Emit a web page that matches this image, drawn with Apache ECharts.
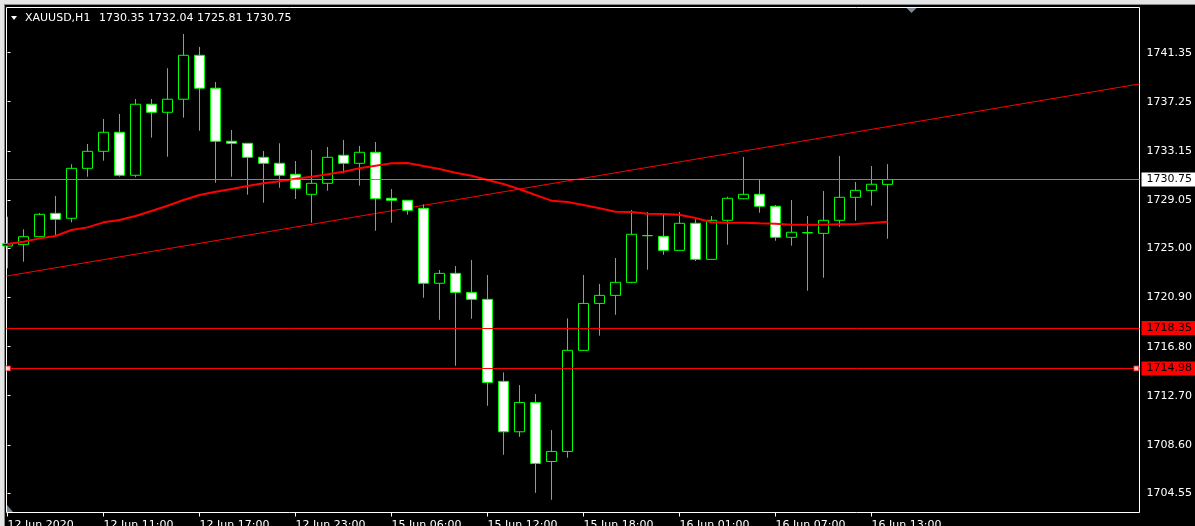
<!DOCTYPE html>
<html>
<head>
<meta charset="utf-8">
<script src="https://cdn.jsdelivr.net/npm/echarts@6/dist/echarts.min.js"></script>
<style>
  html, body { margin: 0; padding: 0; background: #000; }
  #chart { width: 1195px; height: 526px; }
</style>
</head>
<body>
<div id="chart"></div>
<script>
// ---- data ----
const symbolName = 'XAUUSD,H1';
const open = [1725.20,1725.34,1725.98,1727.93,1727.52,1731.69,1733.11,1734.70,1731.11,1737.04,
  1736.37,1737.46,1741.13,1738.38,1733.95,1733.78,1732.61,1732.11,1731.19,1729.52,
  1730.44,1732.78,1732.11,1733.03,1729.19,1729.02,1728.35,1722.09,1722.92,1721.33,
  1720.75,1713.90,1709.69,1712.14,1707.21,1708.05,1716.49,1720.41,1721.08,1722.17,
  1726.06,1726.01,1724.84,1727.10,1724.09,1727.35,1729.15,1729.52,1728.52,1725.93,
  1726.30,1726.26,1727.35,1729.27,1729.85,1730.35];
const close = [1725.40,1725.98,1727.85,1727.43,1731.69,1733.11,1734.70,1731.11,1737.04,1736.37,
  1737.46,1741.13,1738.38,1733.95,1733.78,1732.61,1732.11,1731.11,1730.02,1730.44,
  1732.61,1732.11,1733.03,1729.15,1729.02,1728.18,1722.09,1722.92,1721.33,1720.75,
  1713.81,1709.69,1712.14,1707.05,1708.05,1716.49,1720.41,1721.08,1722.17,1726.18,
  1726.08,1724.84,1727.10,1724.09,1727.35,1729.19,1729.52,1728.52,1725.93,1726.35,
  1726.33,1727.35,1729.27,1729.85,1730.36,1730.75];
const low = [1723.34,1723.89,1725.95,1726.12,1727.18,1730.99,1732.33,1730.99,1730.95,1734.25,
  1732.66,1735.92,1734.83,1730.49,1730.99,1729.49,1728.82,1730.07,1729.13,1727.15,
  1729.82,1731.27,1730.24,1726.48,1727.15,1727.82,1720.88,1719.04,1715.20,1719.13,
  1711.86,1707.77,1709.27,1704.59,1704.01,1707.52,1716.45,1717.71,1719.46,1722.10,
  1723.22,1724.47,1724.80,1723.95,1724.05,1725.31,1729.10,1727.98,1725.64,1725.23,
  1721.47,1722.55,1726.81,1727.31,1728.57,1725.81];
const high = [1727.65,1726.60,1727.96,1729.38,1732.03,1733.72,1735.81,1736.23,1737.48,1737.48,
  1740.05,1742.91,1741.83,1738.90,1734.89,1733.80,1733.14,1733.78,1732.30,1733.22,
  1733.47,1734.06,1733.56,1733.89,1729.96,1729.05,1728.68,1723.20,1723.53,1724.03,
  1722.78,1714.65,1713.59,1712.84,1709.83,1719.16,1722.78,1722.03,1724.20,1728.21,
  1728.04,1727.90,1728.04,1727.43,1727.71,1729.32,1732.64,1730.77,1728.63,1729.04,
  1727.71,1729.80,1732.72,1730.55,1731.88,1732.04];
const movingAvg = [1725.37,1725.56,1725.84,1726.04,1726.54,1726.76,1727.18,1727.37,1727.71,1728.13,
  1728.57,1729.04,1729.46,1729.74,1729.96,1730.21,1730.44,1730.61,1730.82,1730.99,
  1731.19,1731.41,1731.69,1731.91,1732.11,1732.14,1731.88,1731.63,1731.32,1731.07,
  1730.72,1730.38,1729.94,1729.46,1728.99,1728.88,1728.63,1728.35,1728.07,1728.04,
  1727.90,1727.87,1727.82,1727.54,1727.18,1727.15,1727.15,1727.10,1727.06,1726.98,
  1726.98,1726.98,1727.01,1727.04,1727.12,1727.23];
const timeTickIndex = [0, 6, 12, 18, 24, 30, 36, 42, 48, 54];
const timeTickLabels = ['12 Jun 2020','12 Jun 11:00','12 Jun 17:00','12 Jun 23:00','15 Jun 06:00',
  '15 Jun 12:00','15 Jun 18:00','16 Jun 01:00','16 Jun 07:00','16 Jun 13:00'];
const priceTicks = [1704.55,1708.60,1712.70,1716.80,1720.90,1725.00,1729.05,1733.15,1737.25,1741.35];
const bidPrice = 1730.75;
const levelPrices = [1718.35, 1714.98];
const trendLine = [[-0.0625, 1722.69], [70.75, 1738.74]];
const selectedLevelHandles = [[0.03, 1714.98], [70.55, 1714.98]];

// ---- chart ----
const X_MIN = -0.0625, X_MAX = 70.75;
const Y_MIN = 1702.95, Y_MAX = 1745.12;
const FONT = 'DejaVu Sans';

const candleData = open.map((o, i) => [i, o, close[i], low[i], high[i]]);
const maData = movingAvg.map((v, i) => [i, v]);
const last = open.length - 1;
const headerText = [open[last], high[last], low[last], close[last]].map(v => v.toFixed(2)).join(' ');

const chart = echarts.init(document.getElementById('chart'), null, { renderer: 'canvas' });

const levelLabel = (bg) => ({
  show: true, position: 'end', distance: 2,
  formatter: p => Number(p.value).toFixed(2),
  backgroundColor: bg, color: '#000', fontFamily: FONT, fontSize: 11,
  padding: [2, 6, 1, 5], lineHeight: 11
});

chart.setOption({
  animation: false,
  backgroundColor: '#000',
  grid: {
    left: 6.5, right: 55.5, top: 7.5, bottom: 13.5,
    outerBoundsMode: 'none', containLabel: false,
    show: true, borderColor: '#ffffff', borderWidth: 1, backgroundColor: 'transparent'
  },
  xAxis: {
    type: 'value', min: X_MIN, max: X_MAX,
    splitLine: { show: false },
    axisLine: { show: false },
    axisTick: { show: true, customValues: timeTickIndex, length: 4, lineStyle: { color: '#fff' } },
    axisLabel: {
      customValues: timeTickIndex,
      formatter: v => { const j = timeTickIndex.indexOf(Math.round(v)); return j >= 0 ? timeTickLabels[j] : ''; },
      color: '#fff', fontFamily: FONT, fontSize: 11, align: 'left', verticalAlign: 'top',
      margin: 7, showMinLabel: true, showMaxLabel: true
    }
  },
  yAxis: {
    type: 'value', position: 'right', min: Y_MIN, max: Y_MAX,
    splitLine: { show: false },
    axisLine: { show: false },
    axisTick: { show: true, customValues: priceTicks, length: 3, lineStyle: { color: '#fff' } },
    axisLabel: {
      customValues: priceTicks,
      formatter: v => Number(v).toFixed(2),
      color: '#fff', fontFamily: FONT, fontSize: 11, margin: 7, verticalAlign: 'middle'
    }
  },
  series: [
    {
      type: 'line', name: 'trend', data: trendLine, symbol: 'none', silent: true,
      lineStyle: { color: '#ff0000', width: 1 }, z: 2,
      markLine: {
        silent: true, symbol: ['none', 'none'], animation: false,
        lineStyle: { color: '#ff0000', width: 1, type: 'solid' },
        label: levelLabel('#ff0000'),
        data: levelPrices.map(v => ({ yAxis: v }))
      }
    },
    {
      type: 'candlestick', name: symbolName, data: candleData, barWidth: 10,
      encode: { x: 0, y: [1, 2, 3, 4] },
      itemStyle: { color: '#000000', color0: '#ffffff', borderColor: '#00ff00', borderColor0: '#00ff00', borderWidth: 1 },
      z: 3,
      markLine: {
        silent: true, symbol: ['none', 'none'], animation: false,
        lineStyle: { color: '#778899', width: 1, type: 'solid' },
        label: levelLabel('#ffffff'),
        data: [{ yAxis: bidPrice }]
      }
    },
    {
      type: 'line', name: 'MA', data: maData, symbol: 'none', silent: true,
      lineStyle: { color: '#ff0000', width: 2 }, z: 4
    },
    {
      type: 'scatter', name: 'handles', data: selectedLevelHandles, symbol: 'rect', symbolSize: 5, silent: true,
      itemStyle: { color: '#ffffff', borderColor: '#ff0000', borderWidth: 1 }, z: 5
    }
  ],
  graphic: [
    { type: 'rect', shape: { x: 0, y: 0, width: 1195, height: 4 }, style: { fill: '#e4e4e4' }, silent: true },
    { type: 'rect', shape: { x: 0, y: 4, width: 1195, height: 1 }, style: { fill: '#8a8a8a' }, silent: true },
    { type: 'rect', shape: { x: 0, y: 0, width: 4, height: 526 }, style: { fill: '#e4e4e4' }, silent: true },
    { type: 'rect', shape: { x: 4, y: 5, width: 1, height: 521 }, style: { fill: '#8a8a8a' }, silent: true },
    { type: 'polygon', shape: { points: [[11, 16], [17, 16], [14, 20]] }, style: { fill: '#ffffff' }, silent: true },
    { type: 'text', left: 25, top: 13, style: { text: symbolName, fill: '#fff', font: '11px "DejaVu Sans"' }, silent: true },
    { type: 'text', left: 99, top: 13, style: { text: headerText, fill: '#fff', font: '11px "DejaVu Sans"' }, silent: true },
    { type: 'polygon', shape: { points: [[906.5, 8], [916.5, 8], [911.5, 13]] }, style: { fill: '#778899' }, silent: true },
    { type: 'polygon', shape: { points: [[7, 505], [7, 512], [13, 512]] }, style: { fill: '#778899' }, silent: true }
  ]
});
</script>
</body>
</html>
